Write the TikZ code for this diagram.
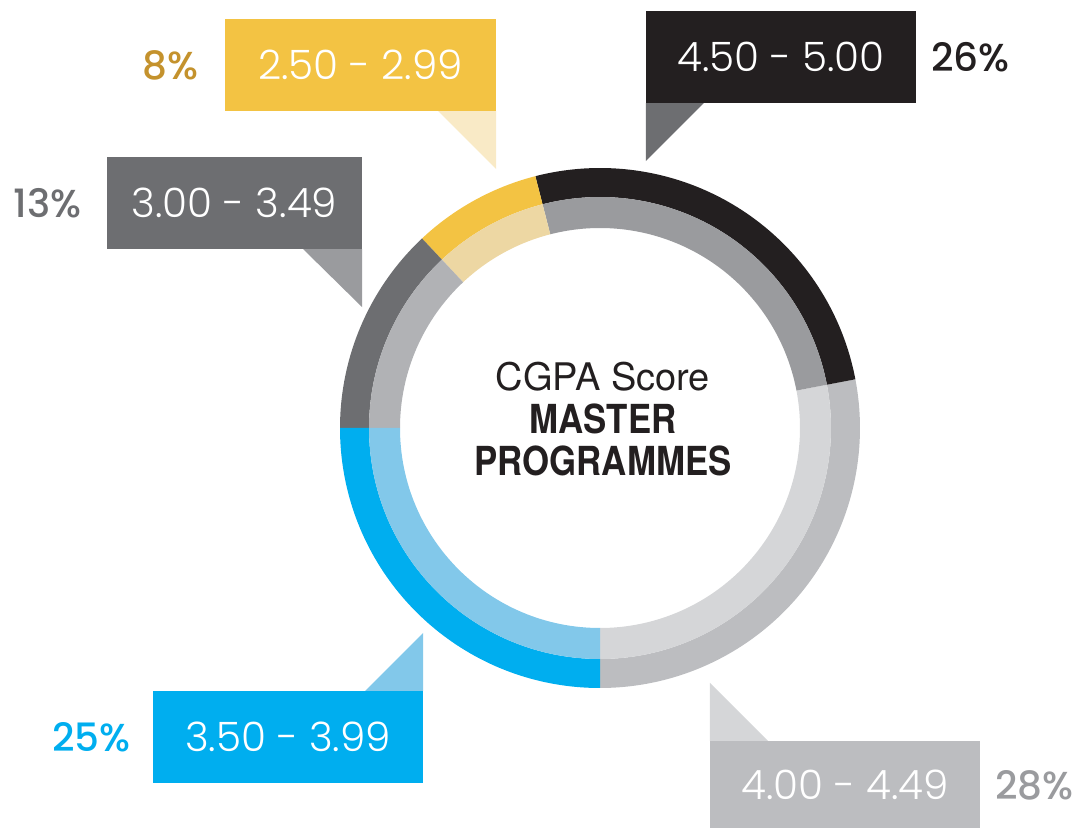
\documentclass[tikz,border=0pt]{standalone}
\usepackage{fontspec}
\usetikzlibrary{positioning}
\newfontfamily\boxfont{Poppins Light}
\newfontfamily\pctfont{Poppins Medium}
\newfontfamily\ctrfont{TeX Gyre Heros}
\newfontfamily\ctrcond[FakeStretch=0.87]{TeX Gyre Heros}
\definecolor{cgblack}{HTML}{231F20}
\definecolor{cgblackin}{HTML}{9A9B9E}
\definecolor{cgdark}{HTML}{6D6E71}
\definecolor{cgdarkin}{HTML}{B1B2B5}
\definecolor{cgyel}{HTML}{F3C343}
\definecolor{cgyelin}{HTML}{EDD7A3}
\definecolor{cgyeltail}{HTML}{F9EAC6}
\definecolor{cgblue}{HTML}{00AEEF}
\definecolor{cgbluein}{HTML}{82C8EA}
\definecolor{cglight}{HTML}{BCBDC0}
\definecolor{cglightin}{HTML}{D5D6D8}
\definecolor{cggold}{HTML}{C4922D}
\tikzset{
  rangebox/.style={minimum height=92pt, inner sep=0pt, text=white,
    font=\boxfont\fontsize{40.5}{48}\selectfont},
  pct/.style={inner sep=0pt, font=\pctfont\fontsize{39}{47}\selectfont},
  ctitle/.style={anchor=base, inner sep=0pt, text=cgblack,
    font=\ctrcond\bfseries\fontsize{40}{48}\selectfont}
}

\begin{document}
\begin{tikzpicture}[x=1pt, y=1pt]
    \useasboundingbox (0,0) rectangle (1080,828);
    \coordinate (ctr) at (600,400);
    \foreach \a/\b/\co/\ci in {-90/10.8/cglight/cglightin, 10.8/104.4/cgblack/cgblackin,
        104.4/133.2/cgyel/cgyelin, 133.2/180/cgdark/cgdarkin, 180/270/cgblue/cgbluein}{
      \fill[\co] ([shift={(\a:260)}]ctr) arc[start angle=\a, end angle=\b, radius=260]
        -- ([shift={(\b:231)}]ctr) arc[start angle=\b, end angle=\a, radius=231] -- cycle;
      \fill[\ci] ([shift={(\a:231)}]ctr) arc[start angle=\a, end angle=\b, radius=231]
        -- ([shift={(\b:200)}]ctr) arc[start angle=\b, end angle=\a, radius=200] -- cycle;
    }
    \node[anchor=base, inner sep=0pt, text=cgblack, font=\ctrfont\fontsize{38}{46}\selectfont]
      (cgpa) at (603,437) {CGPA Score};
    \node[ctitle] (mst) at (603,394) {MASTER};
    \node[ctitle] (prg) at (603,352.5) {PROGRAMMES};

    \node[rangebox, fill=cgyel, minimum width=271pt]   (yl) at (360.5,763) {2.50 - 2.99};
    \node[rangebox, fill=cgdark, minimum width=255pt]  (dg) at (234.5,625) {3.00 - 3.49};
    \node[rangebox, fill=cgblack, minimum width=270pt] (bk) at (781,771)   {4.50 - 5.00};
    \node[rangebox, fill=cgblue, minimum width=270pt]  (bl) at (288,91)    {3.50 - 3.99};
    \node[rangebox, fill=cglight, minimum width=270pt, minimum height=88pt]
      (lg) at (845,43) {4.00 - 4.49};

    \fill[cgyeltail] (yl.south east) -- ++(-58,0) -- ++(58,-58) -- cycle;
    \fill[cgblackin] (dg.south east) -- ++(-59,0) -- ++(59,-58) -- cycle;
    \fill[cgdark]    (bk.south west) -- ++(58,0) -- ++(-58,-58) -- cycle;
    \fill[cgbluein]  (bl.north east) -- ++(-58,0) -- ++(58,58) -- cycle;
    \fill[cglightin] (lg.north west) -- ++(58,0) -- ++(-58,58) -- cycle;

    \node[pct, text=cggold, left=26pt of yl]    (pyl) {8\%};
    \node[pct, text=cgdark, left=25pt of dg]    (pdg) {13\%};
    \node[pct, text=cgblack, right=15pt of bk]  (pbk) {26\%};
    \node[pct, text=cgblue, left=22pt of bl]    (pbl) {25\%};
    \node[pct, text=cgblackin, right=15pt of lg] (plg) {28\%};
  \end{tikzpicture}
\end{document}
